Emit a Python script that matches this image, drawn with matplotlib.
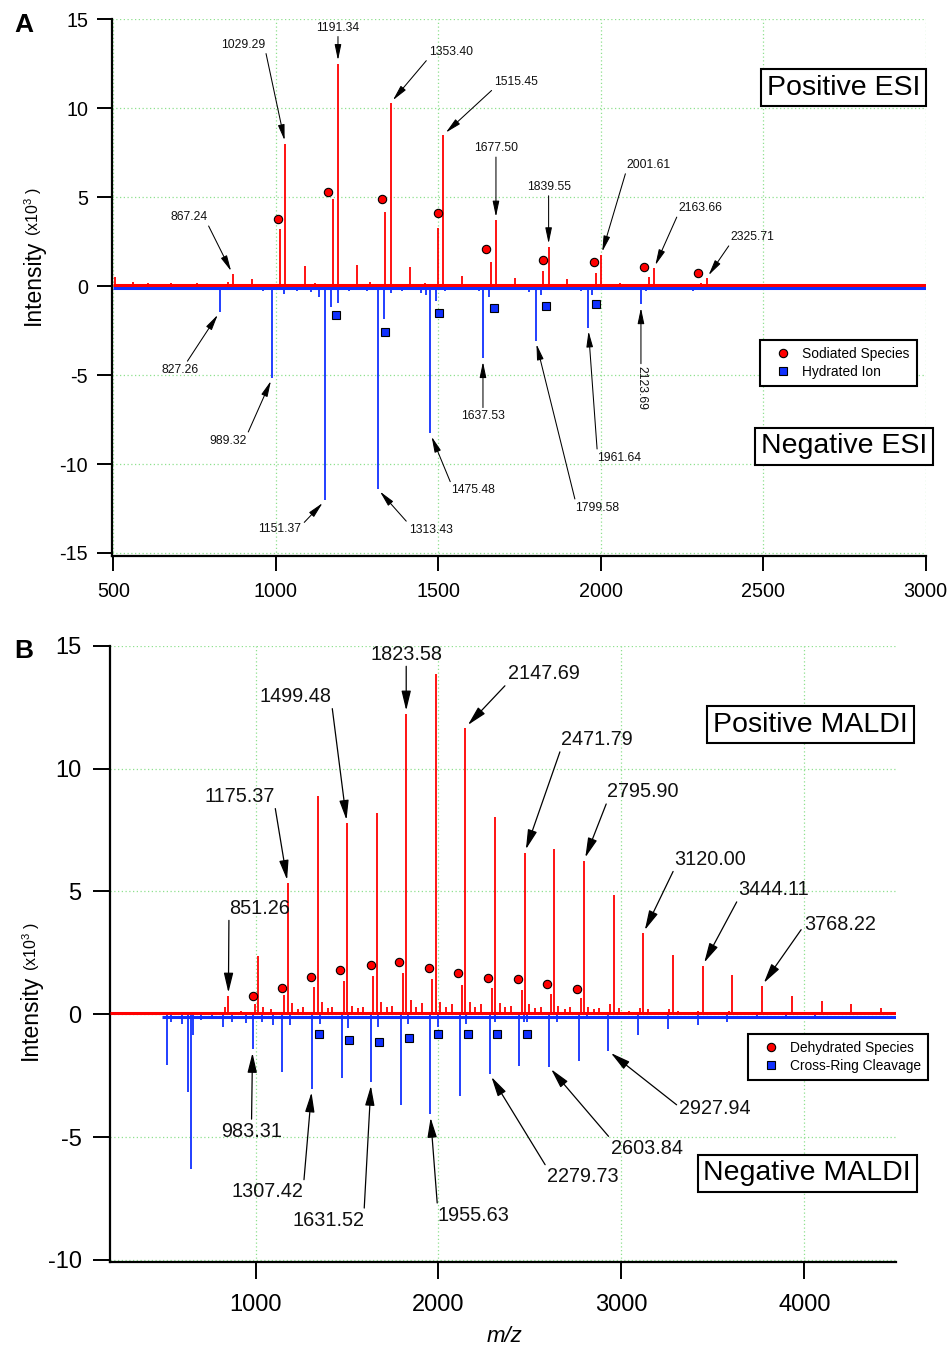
import matplotlib
matplotlib.use('Agg')
import matplotlib.pyplot as plt
from matplotlib.lines import Line2D

plt.rcParams['font.family'] = ['Liberation Sans', 'DejaVu Sans']
plt.rcParams['axes.unicode_minus'] = False
plt.rcParams['mathtext.default'] = 'regular'

RED = '#ff0000'
BLUE = '#1030ff'
GRID = '#8fe08f'

# ---------------- A: ESI spectra ----------------
esi_range = [498, 3000]
esi_pos_floor = 0.06
esi_neg_floor = -0.1

esi_pos_lab_mz = [867.24, 1029.29, 1191.34, 1353.40, 1515.45, 1677.50, 1839.55, 2001.61, 2163.66, 2325.71]
esi_pos_lab_int = [0.67, 8.0, 12.5, 10.3, 8.5, 3.7, 2.2, 1.75, 1.0, 0.45]
esi_pos_minor_mz = [1013, 1175, 1337, 1499, 1661, 1823, 1985, 2147, 2309,
                    506, 560, 608, 678, 758, 853, 927, 1089, 1251, 1413, 1574,
                    1735, 1896, 2060, 2222, 2380, 2470, 2620, 2790, 1120, 1290, 1460]
esi_pos_minor_int = [3.2, 4.9, 4.15, 3.27, 1.35, 0.84, 0.72, 0.5, 0.17,
                     0.5, 0.25, 0.2, 0.2, 0.15, 0.25, 0.4, 1.15, 1.2, 1.1, 0.55,
                     0.45, 0.4, 0.18, 0.12, 0.1, 0.12, 0.1, 0.08, 0.2, 0.25, 0.2]
sodiated_mz = [1007, 1162, 1327, 1500, 1646, 1821, 1978, 2132, 2300]
sodiated_int = [3.75, 5.3, 4.9, 4.1, 2.1, 1.45, 1.35, 1.07, 0.72]

esi_neg_lab_mz = [827.26, 989.32, 1151.37, 1313.43, 1475.48, 1637.53, 1799.58, 1961.64, 2123.69]
esi_neg_lab_int = [-1.45, -5.15, -12.05, -11.4, -8.28, -4.06, -3.07, -2.34, -1.03]
esi_neg_minor_mz = [1171, 1190, 1333, 1494, 1657, 1815, 1972, 668, 1024, 1066, 1107,
                    1133, 1226, 1282, 1353, 1389, 1446, 1462, 1522, 1625, 2285, 2449,
                    2600, 2700, 590, 720, 905, 960, 1780, 1940, 2140]
esi_neg_minor_int = [-1.16, -0.95, -1.85, -0.82, -0.63, -0.5, -0.5, -0.15, -0.45, -0.3, -0.35,
                     -0.6, -0.3, -0.3, -0.4, -0.3, -0.4, -0.5, -0.3, -0.3, -0.3, -0.15,
                     -0.12, -0.1, -0.12, -0.15, -0.2, -0.25, -0.35, -0.3, -0.25]
hydrated_mz = [1184, 1337, 1502, 1671, 1830, 1984]
hydrated_int = [-1.6, -2.57, -1.53, -1.25, -1.1, -1.03]

# ---------------- B: MALDI spectra ----------------
maldi_pos_range = [204, 4500]
maldi_neg_range = [490, 4500]
maldi_pos_floor = 0.06
maldi_neg_floor = -0.1

maldi_pos_lab_mz = [851.26, 1175.37, 1499.48, 1823.58, 2147.69, 2471.79, 2795.90, 3120.00, 3444.11, 3768.22]
maldi_pos_lab_int = [0.74, 5.33, 7.77, 12.22, 11.67, 6.58, 6.25, 3.3, 1.98, 1.16]
maldi_pos_minor_mz = [1015, 1340, 1662, 1986, 2311, 2633, 2960, 3284, 3606, 3933, 4095, 4257, 4420,
                      997, 1157, 1319, 1481, 1643, 1804, 1966, 2128, 2291, 2455, 2614, 2777, 2938,
                      690, 760, 833, 920, 1040, 1085, 1200, 1230, 1260, 1362, 1395, 1420, 1525,
                      1560, 1585, 1685, 1720, 1748, 1848, 1875, 1910, 2010, 2040, 2072, 2170,
                      2200, 2235, 2335, 2365, 2395, 2495, 2530, 2560, 2655, 2690, 2720, 2820,
                      2850, 2880, 2985, 3040, 3100, 3145, 3260, 3310, 3420, 3590, 3750, 3910,
                      4060, 4200]
maldi_pos_minor_int = [2.37, 8.9, 8.2, 13.84, 8.02, 6.71, 4.86, 2.41, 1.6, 0.76, 0.54, 0.42, 0.24,
                       0.42, 0.79, 1.12, 1.37, 1.56, 1.67, 1.42, 1.19, 1.06, 0.99, 0.81, 0.65, 0.4,
                       0.1, 0.1, 0.3, 0.15, 0.3, 0.2, 0.45, 0.2, 0.3, 0.5, 0.25, 0.3, 0.35,
                       0.25, 0.3, 0.5, 0.3, 0.35, 0.6, 0.3, 0.45, 0.5, 0.3, 0.4, 0.5,
                       0.3, 0.4, 0.45, 0.3, 0.35, 0.4, 0.25, 0.3, 0.35, 0.2, 0.3, 0.3,
                       0.2, 0.25, 0.25, 0.15, 0.25, 0.2, 0.2, 0.15, 0.15, 0.15, 0.1, 0.1,
                       0.08, 0.08]
dehydrated_mz = [984, 1143, 1303, 1462, 1629, 1786, 1948, 2108, 2271, 2435, 2595, 2756]
dehydrated_int = [0.74, 1.08, 1.53, 1.8, 2.02, 2.12, 1.9, 1.67, 1.47, 1.42, 1.22, 1.02]

maldi_neg_lab_mz = [983.31, 1307.42, 1631.52, 1955.63, 2279.73, 2603.84, 2927.94]
maldi_neg_lab_int = [-1.43, -3.04, -2.77, -4.07, -2.43, -2.13, -1.49]
maldi_neg_minor_mz = [517, 629, 647, 656, 1146, 1471, 1795, 2118, 2442, 2768, 3093, 3253,
                      3417, 3579, 3740, 537, 596, 823, 869, 946, 1033, 1097, 1188, 1352,
                      1507, 1671, 1835, 1999, 2150, 2309, 2470, 2486, 2646, 2810, 700, 760,
                      3900, 4060]
maldi_neg_minor_int = [-2.06, -3.15, -6.3, -0.85, -2.36, -2.6, -3.69, -3.33, -2.1, -1.9, -0.85, -0.6,
                       -0.44, -0.3, -0.2, -0.3, -0.4, -0.5, -0.3, -0.35, -0.3, -0.45, -0.45, -0.4,
                       -0.55, -0.5, -0.4, -0.5, -0.4, -0.3, -0.3, -0.3, -0.3, -0.15, -0.25, -0.2,
                       -0.12, -0.1]
crossring_mz = [1348, 1512, 1675, 1837, 1999, 2163, 2322, 2484]
crossring_int = [-0.8, -1.05, -1.14, -0.98, -0.81, -0.81, -0.81, -0.81]

# label offsets in pixels (dx, dy) from the peak tip, and the point of the
# label box where the arrow starts
esi_pos_offsets = [(-44, 57, (1, 0)), (-42, 99, (1, 0)), (0, 36, (0.5, 0)), (60, 51, (0, 0)),
                   (73, 53, (0, 0)), (0, 72, (0.5, 0)), (0, 60, (0.5, 0)), (47, 90, (0, 0)),
                   (46, 60, (0, 0)), (46, 41, (0, 0))]
esi_neg_offsets = [(-40, -58, (0.66, 1)), (-44, -63, (1, 1)), (-45, -29, (1, 0.85)),
                   (53, -41, (0, 1)), (43, -57, (0, 1)), (0, -58, (0.5, 1)),
                   (62, -167, (0, 1)), (31, -130, (0, 1)), (0, -84, (0.5, 1))]
maldi_pos_offsets = [(31, 88, (0, 0)), (-48, 87, (1, 0)), (-51, 127, (1, 0)), (0, 60, (0.5, 0)),
                     (78, 54, (0, 0)), (72, 113, (0, 0)), (59, 69, (0, 0)), (67, 74, (0, 0)),
                     (71, 76, (0, 0)), (78, 61, (0, 0.45))]
maldi_neg_offsets = [(-1, -82, (0.5, 1)), (-44, -103, (1, 1)), (-43, -138, (1, 1)),
                     (43, -101, (0, 1)), (93, -103, (0, 1)), (98, -82, (0, 1)),
                     (107, -58, (0, 0.6))]


def style_axes(ax, xlim, ylim, xticks, yticks, fs, ticklen, xpad, ypad):
    ax.set_xlim(*xlim)
    ax.set_ylim(*ylim)
    for s in ('top', 'right'):
        ax.spines[s].set_visible(False)
    for s in ('left', 'bottom'):
        ax.spines[s].set_linewidth(1.6)
    ax.set_xticks(xticks)
    ax.set_yticks(yticks)
    ax.tick_params(direction='out', length=ticklen, width=1.4, labelsize=fs)
    ax.tick_params(axis='x', pad=xpad)
    ax.tick_params(axis='y', pad=ypad)
    ax.grid(True, color=GRID, ls=(0, (1, 2)), lw=0.9)
    ax.set_axisbelow(True)


def draw_spectrum(ax, rng, floor, mz, inten, color):
    ax.vlines(mz, 0, inten, color=color, lw=1.3, zorder=3)
    ax.plot(rng, [floor, floor], color=color, lw=2.2, zorder=3, solid_capstyle='butt')


def label_peaks(ax, mz, inten, offsets, fs, ms, hl, hw, lw, rot=None):
    for i, (m, h, (dx, dy, rp)) in enumerate(zip(mz, inten, offsets)):
        r = 0
        if rot is not None and rot[i]:
            r = rot[i]
        ax.annotate('%.2f' % m, xy=(m, h), xytext=(dx, dy), textcoords='offset pixels',
                    ha='center', va='center', fontsize=fs, color='#111111', rotation=r,
                    zorder=6,
                    arrowprops=dict(arrowstyle='-|>,head_length=%g,head_width=%g' % (hl, hw),
                                    color='black', lw=lw, shrinkA=0, shrinkB=2.5,
                                    relpos=rp, mutation_scale=ms))


def add_legend(ax, labels, right, top):
    handles = [Line2D([], [], ls='none', marker='o', ms=6, mfc=RED, mec='black', mew=0.8),
               Line2D([], [], ls='none', marker='s', ms=5.2, mfc=BLUE, mec='black', mew=0.8)]
    leg = ax.legend(handles, labels, loc='upper right',
                    bbox_to_anchor=(right / W, 1 - top / H), bbox_transform=fig.transFigure,
                    borderaxespad=0, fontsize=9.9, handlelength=2.3, handletextpad=0.28,
                    labelspacing=0.3, borderpad=0.5, fancybox=False, framealpha=1,
                    edgecolor='black')
    leg.get_frame().set_linewidth(1.5)
    leg.set_zorder(8)


fig = plt.figure(figsize=(9.5, 13.47), dpi=100)
W, H = 950.0, 1347.0

# ---- panel A ----
axA = fig.add_axes([111.7 / W, 1 - 556 / H, 814 / W, (556 - 19.3) / H])
style_axes(axA, (495, 3000), (-15.17, 15), [500, 1000, 1500, 2000, 2500, 3000],
           [-15, -10, -5, 0, 5, 10, 15], 14.2, 11, 8, 6)
draw_spectrum(axA, esi_range, esi_neg_floor, esi_neg_minor_mz + esi_neg_lab_mz,
              esi_neg_minor_int + esi_neg_lab_int, BLUE)
draw_spectrum(axA, esi_range, esi_pos_floor, esi_pos_minor_mz + esi_pos_lab_mz,
              esi_pos_minor_int + esi_pos_lab_int, RED)
axA.plot(sodiated_mz, sodiated_int, 'o', ms=6, mfc=RED, mec='black', mew=0.8, zorder=5)
axA.plot(hydrated_mz, hydrated_int, 's', ms=5.2, mfc=BLUE, mec='black', mew=0.8, zorder=5)
label_peaks(axA, esi_pos_lab_mz, esi_pos_lab_int, esi_pos_offsets, 8.7, 10, 0.95, 0.2, 0.75)
label_peaks(axA, esi_neg_lab_mz, esi_neg_lab_int, esi_neg_offsets, 8.7, 10, 0.95, 0.2, 0.75,
            rot=[0] * 8 + [270])
add_legend(axA, ['Sodiated Species', 'Hydrated Ion'], 916.7, 340)

# ---- panel B ----
axB = fig.add_axes([110 / W, 1 - 1261.7 / H, 785.7 / W, (1261.7 - 645.7) / H])
style_axes(axB, (204, 4500), (-10.07, 15), [1000, 2000, 3000, 4000],
           [-10, -5, 0, 5, 10, 15], 17, 12.5, 11, 8)
draw_spectrum(axB, maldi_neg_range, maldi_neg_floor, maldi_neg_minor_mz + maldi_neg_lab_mz,
              maldi_neg_minor_int + maldi_neg_lab_int, BLUE)
draw_spectrum(axB, maldi_pos_range, maldi_pos_floor, maldi_pos_minor_mz + maldi_pos_lab_mz,
              maldi_pos_minor_int + maldi_pos_lab_int, RED)
axB.plot(dehydrated_mz, dehydrated_int, 'o', ms=6, mfc=RED, mec='black', mew=0.8, zorder=5)
axB.plot(crossring_mz, crossring_int, 's', ms=5.2, mfc=BLUE, mec='black', mew=0.8, zorder=5)
label_peaks(axB, maldi_pos_lab_mz, maldi_pos_lab_int, maldi_pos_offsets, 14.3, 12, 1.0, 0.24, 0.9)
label_peaks(axB, maldi_neg_lab_mz, maldi_neg_lab_int, maldi_neg_offsets, 14.3, 12, 1.0, 0.24, 0.9)
add_legend(axB, ['Dehydrated Species', 'Cross-Ring Cleavage'], 928.3, 1034.3)

# ---- mode boxes, axis titles and panel letters ----
box = dict(boxstyle='square,pad=0.2', fc='white', ec='black', lw=1.5)
for txt, x, y in [('Positive ESI', 843.7, 87.7), ('Negative ESI', 843.7, 446.2),
                  ('Positive MALDI', 810.5, 724.7), ('Negative MALDI', 807.2, 1173.2)]:
    fig.text(x / W, 1 - y / H, txt, ha='center', va='center', fontsize=20.5, bbox=box,
             zorder=7)

for xb, yi, yx in [(39.5, 282.5, 212), (36.5, 1017, 947)]:
    fig.text(xb / W, 1 - yi / H, 'Intensity', rotation=90, rotation_mode='anchor',
             ha='center', va='baseline', fontsize=16.5)
    fig.text(xb / W, 1 - yx / H, '(x10$^3$ )', rotation=90, rotation_mode='anchor',
             ha='center', va='baseline', fontsize=11.5)

fig.text(504 / W, 1 - 1337 / H, 'm/z', style='italic', fontsize=16, ha='center', va='center')
fig.text(24 / W, 1 - 25 / H, 'A', fontweight='bold', fontsize=19, ha='center', va='center')
fig.text(24 / W, 1 - 651 / H, 'B', fontweight='bold', fontsize=19, ha='center', va='center')

fig.savefig('out.png', dpi=100)
